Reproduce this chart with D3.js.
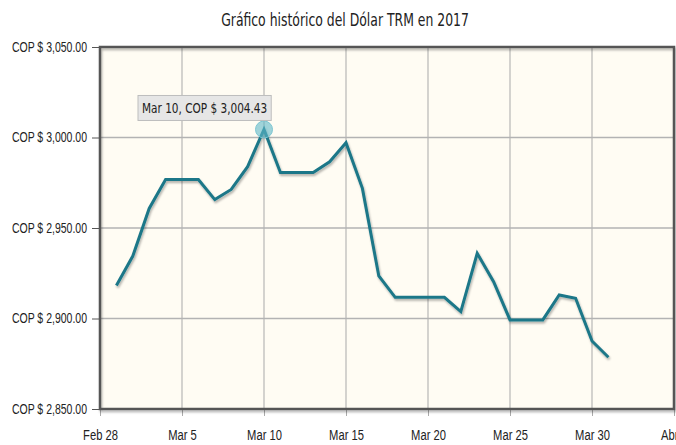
<!DOCTYPE html>
<html>
<head>
<meta charset="utf-8">
<script src="https://cdn.jsdelivr.net/npm/d3@7"></script>
<style>
  html, body { margin: 0; padding: 0; background: #fff; }
  svg { display: block; font-family: "DejaVu Sans", sans-serif; }
</style>
</head>
<body>
<div id="chart"></div>
<script>
// --- data (TRM, March 2017)
const dias = [
  "2017-03-01","2017-03-02","2017-03-03","2017-03-04","2017-03-05","2017-03-06",
  "2017-03-07","2017-03-08","2017-03-09","2017-03-10","2017-03-11","2017-03-12",
  "2017-03-13","2017-03-14","2017-03-15","2017-03-16","2017-03-17","2017-03-18",
  "2017-03-19","2017-03-20","2017-03-21","2017-03-22","2017-03-23","2017-03-24",
  "2017-03-25","2017-03-26","2017-03-27","2017-03-28","2017-03-29","2017-03-30",
  "2017-03-31"
];
const trm = [
  2918.2, 2934.5, 2960.8, 2976.8, 2976.8, 2976.8,
  2965.7, 2971.3, 2983.9, 3004.43, 2980.6, 2980.6,
  2980.6, 2986.6, 2997.1, 2971.9, 2923.5, 2911.7,
  2911.7, 2911.7, 2911.7, 2903.8, 2936.0, 2920.3,
  2899.2, 2899.2, 2899.2, 2913.0, 2911.2, 2887.6,
  2878.6
];
const yTicks = [2850, 2900, 2950, 3000, 3050];
const xTickDates = ["2017-02-28","2017-03-05","2017-03-10","2017-03-15","2017-03-20","2017-03-25","2017-03-30","2017-04-04"];
const xTickLabels = ["Feb 28","Mar 5","Mar 10","Mar 15","Mar 20","Mar 25","Mar 30","Abr 4"];
const titulo = "Gráfico histórico del Dólar TRM en 2017";
const destacado = 9; // index of Mar 10

const parse = d3.timeParse("%Y-%m-%d");
const datos = dias.map((d, i) => ({ fecha: parse(d), valor: trm[i] }));

// narrow font look: squeeze the text horizontally
function estrecho(sel, k) {
  sel.each(function () {
    const n = this.getComputedTextLength();
    d3.select(this).attr("textLength", n * k).attr("lengthAdjust", "spacingAndGlyphs");
  });
}

const W = 676, H = 445;
const margin = { top: 47, right: 2, bottom: 36, left: 100 };
const w = W - margin.left - margin.right;
const h = H - margin.top - margin.bottom;

const svg = d3.select("#chart").append("svg").attr("width", W).attr("height", H);

const defs = svg.append("defs");
const sh = defs.append("filter").attr("id", "sombra").attr("x", "-5%").attr("y", "-5%").attr("width", "110%").attr("height", "120%");
sh.append("feDropShadow").attr("dx", 1).attr("dy", 2).attr("stdDeviation", 1.2).attr("flood-color", "#000").attr("flood-opacity", 0.3);

// title
svg.append("text")
  .attr("x", 345).attr("y", 26)
  .attr("text-anchor", "middle")
  .attr("font-size", 17).attr("fill", "#222")
  .text(titulo)
  .call(estrecho, 0.73);

const x = d3.scaleTime().domain([parse(xTickDates[0]), parse(xTickDates[xTickDates.length - 1])]).range([0, w]);
const y = d3.scaleLinear().domain([2850, 3050]).range([h, 0]);

const g = svg.append("g").attr("transform", `translate(${margin.left},${margin.top})`);

// plot background
g.append("rect").attr("width", w).attr("height", h).attr("fill", "#fffcf3");

// grid
g.append("g").selectAll("line").data(xTickDates.slice(1, -1)).join("line")
  .attr("x1", d => x(parse(d))).attr("x2", d => x(parse(d)))
  .attr("y1", 0).attr("y2", h)
  .attr("stroke", "#a9a9a9").attr("stroke-width", 1);
g.append("g").selectAll("line").data(yTicks.slice(1, -1)).join("line")
  .attr("x1", 0).attr("x2", w)
  .attr("y1", d => y(d)).attr("y2", d => y(d))
  .attr("stroke", "#b3b3b3").attr("stroke-width", 1.5);

// axes
const yAxis = g.append("g")
  .call(d3.axisLeft(y).tickValues(yTicks).tickSize(8).tickPadding(5)
    .tickFormat(d => "COP $ " + d3.format(",.2f")(d)));
yAxis.select(".domain").remove();
yAxis.selectAll("line").attr("stroke", "#555");
yAxis.selectAll("text").attr("font-size", 14).attr("fill", "#222").attr("font-family", null)
  .call(estrecho, 0.75);

const xAxis = g.append("g").attr("transform", `translate(0,${h})`)
  .call(d3.axisBottom(x).tickValues(xTickDates.map(parse)).tickSize(7).tickPadding(14)
    .tickFormat((d, i) => xTickLabels[i]));
xAxis.select(".domain").remove();
xAxis.selectAll("line").attr("stroke", "#aaa");
xAxis.selectAll("text").attr("font-size", 14).attr("fill", "#222").attr("font-family", null)
  .call(estrecho, 0.8);

// frame
g.append("rect").attr("width", w).attr("height", h)
  .attr("fill", "none").attr("stroke", "#555").attr("stroke-width", 2.5)
  .attr("filter", "url(#sombra)");

// line
const linea = d3.line().x(d => x(d.fecha)).y(d => y(d.valor));
g.append("path").datum(datos)
  .attr("fill", "none").attr("stroke", "#1b7788").attr("stroke-width", 3)
  .attr("stroke-linejoin", "miter")
  .attr("filter", "url(#sombra)")
  .attr("d", linea);

// highlight
const p = datos[destacado];
g.append("circle")
  .attr("cx", x(p.fecha)).attr("cy", y(p.valor)).attr("r", 8.5)
  .attr("fill", "#5fb8c8").attr("fill-opacity", 0.6)
  .attr("stroke", "#7cc6d2").attr("stroke-width", 1);

const tipTxt = d3.timeFormat("%b %-d")(p.fecha) + ", COP $ " + d3.format(",.2f")(p.valor);
const tip = g.append("g").attr("transform", `translate(${x(p.fecha) - 126},${y(p.valor) - 34})`);
const tipText = tip.append("text").attr("x", 4).attr("y", 18).attr("font-size", 14).attr("fill", "#222").text(tipTxt)
  .call(estrecho, 0.75);
const tw = +tipText.attr("textLength");
tip.insert("rect", "text")
  .attr("x", 0).attr("y", 0).attr("width", tw + 8).attr("height", 25)
  .attr("fill", "#e6e6e6").attr("stroke", "#bdbdbd").attr("stroke-width", 1);
</script>
</body>
</html>
